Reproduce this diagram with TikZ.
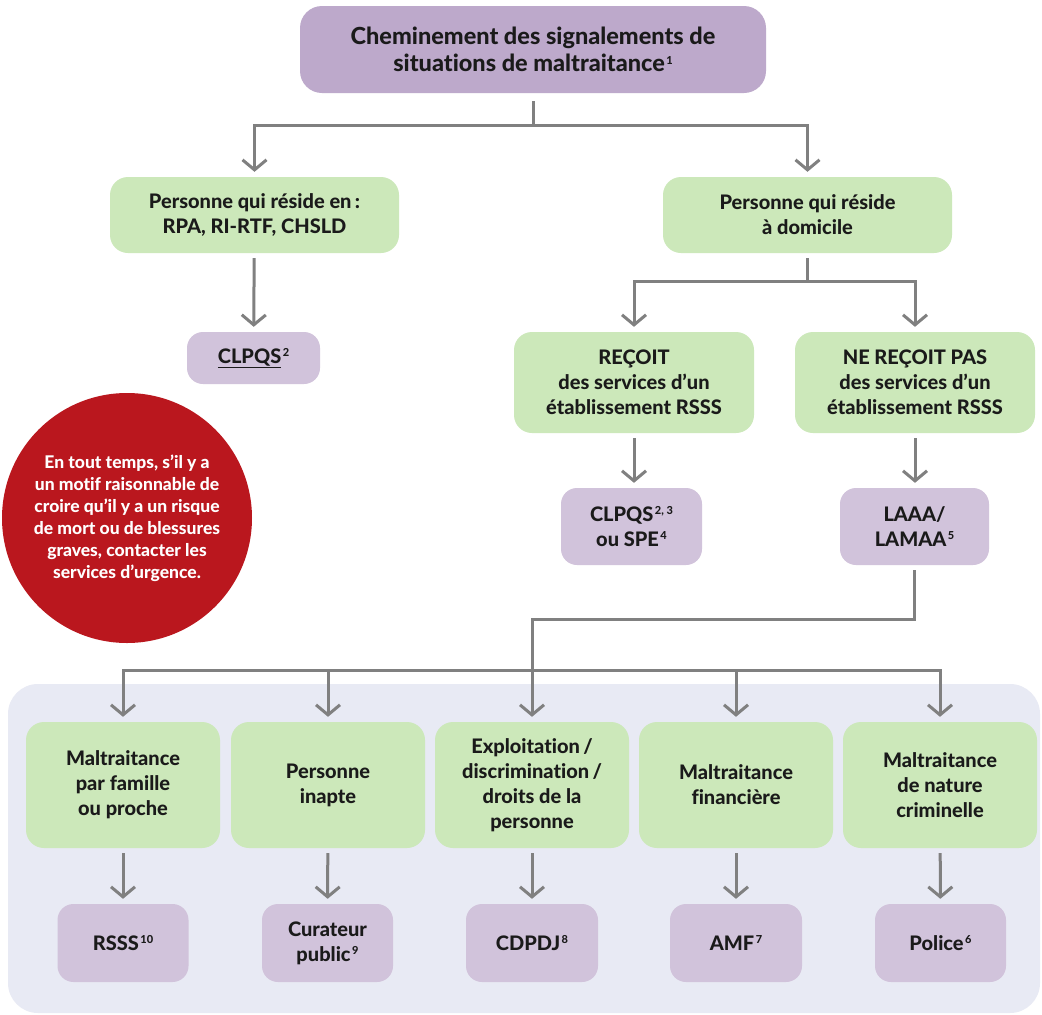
\documentclass[tikz,border=0pt]{standalone}
\usepackage{fontspec}
\setmainfont{Lato}[BoldFont={Lato Heavy}, Ligatures=NoCommon]
\usetikzlibrary{arrows.meta}
\definecolor{titlep}{HTML}{BDA9CB}
\definecolor{lightp}{HTML}{D1C3DB}
\definecolor{greenb}{HTML}{CCE8BA}
\definecolor{panelc}{HTML}{E8EAF4}
\definecolor{redc}{HTML}{BA171E}
\definecolor{grayc}{HTML}{808080}
\definecolor{txt}{HTML}{1A1A1A}
\newcommand{\supr}[1]{\kern1.5pt{\fontsize{11}{11}\selectfont\raisebox{7pt}{#1}}}
\tikzset{
  box/.style={inner sep=0pt, align=center, text=txt, font=\bfseries\fontsize{20}{25}\selectfont},
  titlebox/.style={box, fill=titlep, rounded corners=22pt, minimum width=466pt, minimum height=87pt, font=\bfseries\fontsize{23.5}{26.5}\selectfont},
  gbox/.style={box, fill=greenb, rounded corners=18pt},
  pbox/.style={box, fill=lightp, rounded corners=16pt},
  ln/.style={draw=grayc, line width=3pt},
  tipc/.tip={Straight Barb[length=10pt,width=24pt]},
  arr/.style={ln, -tipc, shorten >=5pt, shorten <=5pt},
}
\begin{document}
\begin{tikzpicture}[x=1pt,y=-1pt]
\useasboundingbox (0,0) rectangle (1042,1015);
\fill[white] (0,0) rectangle (1042,1015);
% panel
\fill[panelc, rounded corners=30pt] (8,684) rectangle (1040,1013);
% title
\node[titlebox] (t) at (533,49.5) {Cheminement des signalements de\\situations de maltraitance\supr{1}};
% level 1
\node[gbox, minimum width=289pt, minimum height=76pt] (p1) at (254.5,215) {Personne qui réside en\,:\\RPA, RI-RTF, CHSLD};
\node[gbox, minimum width=289pt, minimum height=76pt] (p2) at (807.5,215) {Personne qui réside\\à domicile};
\node[pbox, minimum width=133pt, minimum height=52pt] (c1) at (253.5,358) {\underline{CLPQS}\supr{2}};
\node[gbox, minimum width=240pt, minimum height=101pt] (r1) at (634,382.5) {REÇOIT\\des services d’un\\établissement RSSS};
\node[gbox, minimum width=240pt, minimum height=101pt] (r2) at (915,382.5) {NE REÇOIT PAS\\des services d’un\\établissement RSSS};
\node[pbox, minimum width=141pt, minimum height=77pt] (c2) at (631.5,526.5) {CLPQS\supr{2, 3}\\ou SPE\supr{4}};
\node[pbox, minimum width=149pt, minimum height=77pt] (c3) at (914.5,526.5) {LAAA/\\LAMAA\supr{5}};
% red circle
\node[circle, fill=redc, minimum size=250pt, inner sep=0pt, align=center, text=white, font=\bfseries\fontsize{17.5}{22}\selectfont] (rc) at (127,518) {En tout temps, s’il y a\\un motif raisonnable de\\croire qu’il y a un risque\\de mort ou de blessures\\graves, contacter les\\services d’urgence.};
% bottom categories
\foreach \n/\x/\s in {1/123/{Maltraitance\\par famille\\ou proche},2/328/{Personne\\inapte},3/532/{Exploitation\,/\\discrimination\,/\\droits de la\\personne},4/736/{Maltraitance\\financière},5/940/{Maltraitance\\de nature\\criminelle}}{
  \node[gbox, minimum width=194pt, minimum height=126pt] (b\n) at (\x,785) {\s};
}
\node[pbox, minimum width=131pt, minimum height=78pt] (d1) at (123,943) {RSSS\supr{10}};
\node[pbox, minimum width=131pt, minimum height=78pt] (d2) at (327.5,943) {Curateur\\public\supr{9}};
\node[pbox, minimum width=132pt, minimum height=78pt] (d3) at (532,943) {CDPDJ\supr{8}};
\node[pbox, minimum width=132pt, minimum height=78pt] (d4) at (736,943) {AMF\supr{7}};
\node[pbox, minimum width=131pt, minimum height=78pt] (d5) at (940.5,943) {Police\supr{6}};
% junctions
\coordinate (j1) at (533,125);
\coordinate (j2) at (807.5,281);
\coordinate (j3) at (532,619);
\coordinate (h) at (532,670);
% connectors
\draw[ln, shorten <=8pt] (t.south) -- (j1);
\draw[ln, tipc-tipc, shorten <=5pt, shorten >=5pt] (p1.north) |- (j1) -| (p2.north);
\draw[arr] (p1) -- (c1);
\draw[ln, shorten <=5pt] (p2.south) -- (j2);
\draw[ln, tipc-tipc, shorten <=5pt, shorten >=5pt] (r1.north) |- (j2) -| (r2.north);
\draw[arr] (r1.south) -- (r1.south|-c2.north);
\draw[arr] (r2.south) -- (r2.south|-c3.north);
\draw[arr] (c3.south) |- (j3) -- (b3.north);
\draw[ln, tipc-tipc, shorten <=5pt, shorten >=5pt] (b1.north) -- (b1.north|-h) -- (b5.north|-h) -- (b5.north);
\draw[arr, shorten <=0pt] (b2.north|-h) -- (b2.north);
\draw[arr, shorten <=0pt] (b4.north|-h) -- (b4.north);
\foreach \n in {1,...,5}{
  \draw[arr] (b\n) -- (d\n);
}
\end{tikzpicture}
\end{document}
